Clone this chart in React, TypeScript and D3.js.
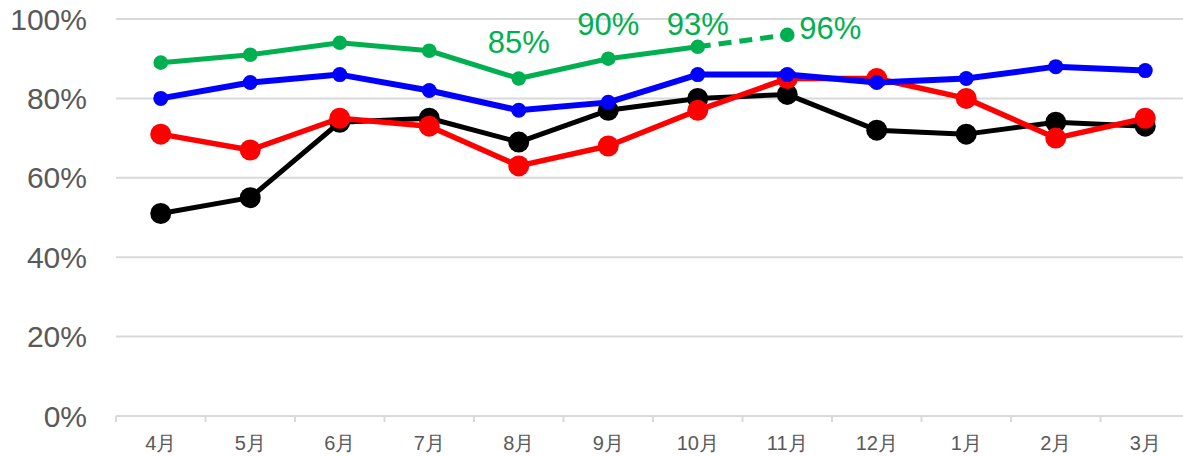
import React, { useEffect } from 'react'
import * as d3 from 'd3'

const months = ['4月', '5月', '6月', '7月', '8月', '9月', '10月', '11月', '12月', '1月', '2月', '3月']
const yTicks = [0, 0.2, 0.4, 0.6, 0.8, 1.0]

// 系列データ（読み取り値）
const greenSolid = [0.89, 0.91, 0.94, 0.92, 0.85, 0.9, 0.93]
const greenForecast = [0.93, 0.96]
const blueValues = [0.8, 0.84, 0.86, 0.82, 0.77, 0.79, 0.86, 0.86, 0.84, 0.85, 0.88, 0.87]
const blackValues = [0.51, 0.55, 0.74, 0.75, 0.69, 0.77, 0.8, 0.81, 0.72, 0.71, 0.74, 0.73]
const redValues = [0.71, 0.67, 0.75, 0.73, 0.63, 0.68, 0.77, 0.85, 0.85, 0.8, 0.7, 0.75]
const greenLabels = [
  { month: '8月', value: 0.85 },
  { month: '9月', value: 0.9 },
  { month: '10月', value: 0.93 },
]
const forecastLabel = { month: '11月', value: 0.96 }

const width = 1183
const height = 456
const font = '"Liberation Sans", Arial, sans-serif'

const App = () => {
  useEffect(() => {
    document.body.style.margin = '0'
  }, [])

  const x = d3.scaleBand<string>().domain(months).range([116, 1190])
  const cx = (m: string) => (x(m) ?? 0) + x.bandwidth() / 2
  const y = d3.scaleLinear().domain([0, 1]).range([416, 19])

  const line = d3
    .line<[string, number]>()
    .x((d) => cx(d[0]))
    .y((d) => y(d[1]))

  const pairs = (vals: number[], start = 0) =>
    vals.map((v, i) => [months[start + i], v] as [string, number])

  const series = [
    { data: pairs(blackValues), color: '#000000', width: 5, r: 10.5 },
    { data: pairs(redValues), color: '#ff0000', width: 5.5, r: 10.5 },
    { data: pairs(blueValues), color: '#0000ff', width: 6, r: 7.5 },
    { data: pairs(greenSolid), color: '#00b050', width: 5, r: 7.3 },
  ]
  const forecast = pairs(greenForecast, 6)

  return (
    <svg width={width} height={height} style={{ display: 'block' }}>
      {/* グリッド */}
      {yTicks.map((t) => (
        <g key={t}>
          <line
            x1={116}
            x2={1190}
            y1={y(t)}
            y2={y(t)}
            stroke="#d9d9d9"
            strokeWidth={2}
          />
          <text
            x={87}
            y={y(t)}
            dy="0.35em"
            textAnchor="end"
            fontFamily={font}
            fontSize={30}
            fill="#595959"
          >
            {Math.round(t * 100)}%
          </text>
        </g>
      ))}

      {/* X軸の目盛 */}
      {months.concat(['']).map((m, i) => {
        const xp = 116 + i * x.bandwidth()
        return <line key={i} x1={xp} x2={xp} y1={416} y2={422} stroke="#d9d9d9" strokeWidth={2} />
      })}
      {months.map((m) => (
        <text
          key={m}
          x={cx(m)}
          y={450}
          textAnchor="middle"
          fontFamily={font}
          fontSize={20}
          fill="#595959"
        >
          {m}
        </text>
      ))}

      {/* 系列 */}
      <path
        d={line(forecast) ?? ''}
        fill="none"
        stroke="#00b050"
        strokeWidth={5}
        strokeDasharray="13,8"
      />
      {series.map((s, i) => (
        <g key={i}>
          <path d={line(s.data) ?? ''} fill="none" stroke={s.color} strokeWidth={s.width} strokeLinejoin="round" />
          {s.data.map((d, j) => (
            <circle key={j} cx={cx(d[0])} cy={y(d[1])} r={s.r} fill={s.color} />
          ))}
        </g>
      ))}
      <circle cx={cx(forecast[1][0])} cy={y(forecast[1][1])} r={7.3} fill="#00b050" />

      {/* ラベル */}
      {greenLabels.map((l) => (
        <text
          key={l.month}
          x={cx(l.month)}
          y={Math.max(y(l.value) - 26, 35)}
          textAnchor="middle"
          fontFamily={font}
          fontSize={31}
          fill="#00b050"
        >
          {Math.round(l.value * 100)}%
        </text>
      ))}
      <text
        x={cx(forecastLabel.month) + 12}
        y={y(forecastLabel.value) + 4}
        fontFamily={font}
        fontSize={31}
        fill="#00b050"
      >
        {Math.round(forecastLabel.value * 100)}%
      </text>
    </svg>
  )
}

export default App
